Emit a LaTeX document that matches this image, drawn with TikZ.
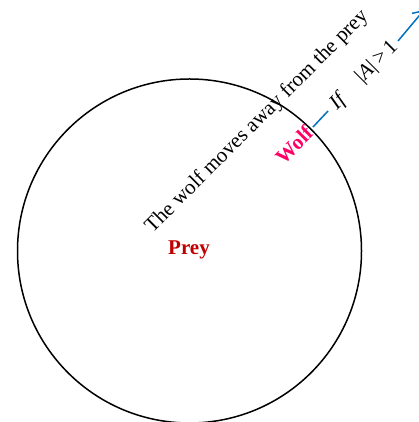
\documentclass[tikz,border=0pt]{standalone}
\usepackage{fontspec}
\setmainfont{Liberation Serif}
\usetikzlibrary{arrows.meta}
\definecolor{wolfc}{HTML}{FF0066}
\definecolor{preyc}{HTML}{C00000}
\definecolor{linec}{HTML}{0070C0}
\begin{document}
\begin{tikzpicture}[x=1pt,y=1pt,
  lbl/.style={font=\fontsize{21}{24}\selectfont, inner sep=0pt, rotate=45},
  bluel/.style={draw=linec, line width=1.5pt}]
\useasboundingbox (0,0) rectangle (418,422);
\node[draw, circle, line width=1.5pt, minimum size=344pt, inner sep=0pt] (c) at (189.5,171) {};
\node[lbl] (t) at (257,300) {The wolf moves away from the prey};
\node[lbl, text=wolfc, font=\fontsize{21}{24}\selectfont\bfseries] (w) at (294,277) {Wolf};
\node[font=\fontsize{21}{24}\selectfont\bfseries, text=preyc] (p) at (189,172) {Prey};
\node[lbl, font=\fontsize{21}{24}\selectfont\itshape] (if) at (338,320) {If};
\node[lbl] (a) at (377,360) {|\textit{A}|\,>\,1};
\coordinate (w1) at (313,295);
\coordinate (w2) at (328,311);
\coordinate (a1) at (398,381);
\coordinate (a2) at (424,412);
\draw[bluel] (w1) -- (w2);
\draw[bluel, -{Straight Barb[length=9pt,width=14pt]}] (a1) -- (a2);
\end{tikzpicture}
\end{document}
